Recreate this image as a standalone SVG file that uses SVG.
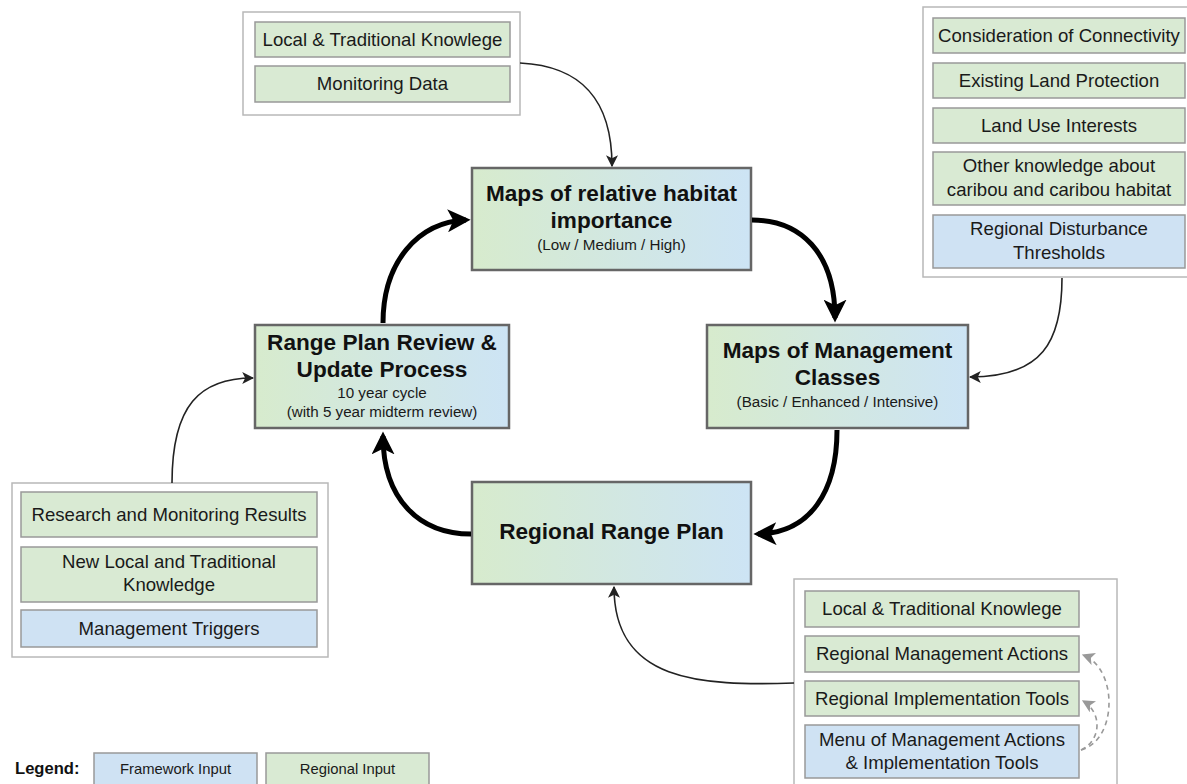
<svg xmlns="http://www.w3.org/2000/svg" width="1187" height="784" viewBox="0 0 1187 784">
<style>
  text { font-family: "Liberation Sans", Arial, sans-serif; fill: #1a1a1a; text-anchor: middle; }
  .grp { fill: #ffffff; stroke: #b8b8b8; stroke-width: 1.5; }
  .g { fill: #d9ead3; stroke: #999999; stroke-width: 1.5; }
  .b { fill: #cfe2f3; stroke: #999999; stroke-width: 1.5; }
  .main { fill: url(#grad); stroke: #666666; stroke-width: 2.5; }
  .t { font-size: 18.6px; }
  .title { font-size: 22.6px; font-weight: bold; fill: #111; }
  .sub { font-size: 15.2px; }
  .thick { fill: none; stroke: #000; stroke-width: 5; marker-end: url(#bigArrow); }
  .thin { fill: none; stroke: #222; stroke-width: 1.6; marker-end: url(#smallArrow); }
  .dash { fill: none; stroke: #999; stroke-width: 1.6; stroke-dasharray: 5 4; marker-end: url(#grayArrow); }
</style>
<defs>
  <linearGradient id="grad" x1="0" y1="0" x2="1" y2="0">
    <stop offset="0" stop-color="#d7ebcd"/>
    <stop offset="1" stop-color="#cde4f5"/>
  </linearGradient>
  <marker id="bigArrow" viewBox="0 0 10 10" refX="8" refY="5" markerWidth="4.6" markerHeight="4.6" orient="auto" markerUnits="strokeWidth">
    <path d="M0,0 L10,5 L0,10 L2.5,5 Z" fill="#000"/>
  </marker>
  <marker id="smallArrow" viewBox="0 0 10 10" refX="9" refY="5" markerWidth="7.5" markerHeight="7.5" orient="auto" markerUnits="strokeWidth">
    <path d="M0,0 L10,5 L0,10 L2.5,5 Z" fill="#222"/>
  </marker>
  <marker id="grayArrow" viewBox="0 0 10 10" refX="9" refY="5" markerWidth="8" markerHeight="8" orient="auto" markerUnits="strokeWidth">
    <path d="M0,0 L10,5 L0,10 L2.5,5 Z" fill="#999"/>
  </marker>
</defs>
<rect width="1187" height="784" fill="#ffffff"/>

<g id="group-top-left">
  <rect class="grp" x="243" y="12" width="277" height="103"/>
  <rect class="g" x="255" y="22" width="255" height="35"/>
  <text class="t" x="382.5" y="46">Local &amp; Traditional Knowlege</text>
  <rect class="g" x="255" y="66" width="255" height="36"/>
  <text class="t" x="382.5" y="90">Monitoring Data</text>
</g>

<g id="group-top-right">
  <rect class="grp" x="923" y="7" width="280" height="270"/>
  <rect class="g" x="933" y="18" width="252" height="35"/>
  <text class="t" x="1059" y="42">Consideration of Connectivity</text>
  <rect class="g" x="933" y="63" width="252" height="35"/>
  <text class="t" x="1059" y="87">Existing Land Protection</text>
  <rect class="g" x="933" y="108" width="252" height="35"/>
  <text class="t" x="1059" y="132">Land Use Interests</text>
  <rect class="g" x="933" y="152" width="252" height="53"/>
  <text class="t" x="1059" y="172">Other knowledge about</text>
  <text class="t" x="1059" y="196">caribou and caribou habitat</text>
  <rect class="b" x="933" y="215" width="252" height="53"/>
  <text class="t" x="1059" y="235">Regional Disturbance</text>
  <text class="t" x="1059" y="259">Thresholds</text>
</g>

<g id="node-habitat">
  <rect class="main" x="472" y="168" width="279" height="102"/>
  <text class="title" x="611.5" y="201">Maps of relative habitat</text>
  <text class="title" x="611.5" y="228">importance</text>
  <text class="sub" x="611.5" y="250">(Low / Medium / High)</text>
</g>

<g id="node-review">
  <rect class="main" x="255" y="325" width="254" height="103"/>
  <text class="title" x="382" y="350">Range Plan Review &amp;</text>
  <text class="title" x="382" y="377">Update Process</text>
  <text class="sub" x="382" y="398">10 year cycle</text>
  <text class="sub" x="382" y="417">(with 5 year midterm review)</text>
</g>

<g id="node-classes">
  <rect class="main" x="707" y="325" width="261" height="103"/>
  <text class="title" x="837.5" y="358">Maps of Management</text>
  <text class="title" x="837.5" y="385">Classes</text>
  <text class="sub" x="837.5" y="407">(Basic / Enhanced / Intensive)</text>
</g>

<g id="node-plan">
  <rect class="main" x="472" y="482" width="279" height="102"/>
  <text class="title" x="611.5" y="539">Regional Range Plan</text>
</g>

<g id="group-bottom-left">
  <rect class="grp" x="12" y="483" width="316" height="174"/>
  <rect class="g" x="21" y="492" width="296" height="45"/>
  <text class="t" x="169" y="521">Research and Monitoring Results</text>
  <rect class="g" x="21" y="547" width="296" height="55"/>
  <text class="t" x="169" y="568">New Local and Traditional</text>
  <text class="t" x="169" y="591">Knowledge</text>
  <rect class="b" x="21" y="610" width="296" height="37"/>
  <text class="t" x="169" y="635">Management Triggers</text>
</g>

<g id="group-bottom-right">
  <rect class="grp" x="794" y="579" width="323" height="215"/>
  <rect class="g" x="805" y="591" width="274" height="36"/>
  <text class="t" x="942" y="615">Local &amp; Traditional Knowlege</text>
  <rect class="g" x="805" y="636" width="274" height="36"/>
  <text class="t" x="942" y="660">Regional Management Actions</text>
  <rect class="g" x="805" y="681" width="274" height="35"/>
  <text class="t" x="942" y="705">Regional Implementation Tools</text>
  <rect class="b" x="805" y="725" width="274" height="53"/>
  <text class="t" x="942" y="746">Menu of Management Actions</text>
  <text class="t" x="942" y="769">&amp; Implementation Tools</text>
</g>

<g id="legend">
  <text x="15" y="774" style="text-anchor:start;font-size:16.6px;font-weight:bold;fill:#111">Legend:</text>
  <rect class="b" x="94" y="753" width="163" height="40"/>
  <text x="175.5" y="774" style="font-size:14.8px">Framework Input</text>
  <rect class="g" x="266" y="753" width="163" height="40"/>
  <text x="347.5" y="774" style="font-size:14.8px">Regional Input</text>
</g>

<g id="connectors">
  <path class="thick" d="M383,323 C383,262 418,222 466,220"/>
  <path class="thick" d="M752,220 C800,220 835,252 835,318"/>
  <path class="thick" d="M837,430 C837,492 810,533 758,534"/>
  <path class="thick" d="M471,534 C420,534 383,500 383,436"/>
  <path class="thin" d="M520,63 C582,66 612,100 612,166"/>
  <path class="thin" d="M1062,278 C1062,342 1042,377 970,377"/>
  <path class="thin" d="M172,483 C172,405 200,378 253,378"/>
  <path class="thin" d="M794,683 C700,686 614,682 614,587"/>
  <path class="dash" d="M1081,750 C1118,740 1118,668 1083,655"/>
  <path class="dash" d="M1081,750 C1102,740 1102,712 1083,701"/>
</g>
</svg>
